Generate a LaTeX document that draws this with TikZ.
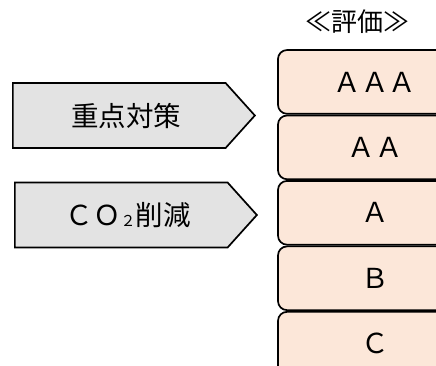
\documentclass[tikz,border=0pt]{standalone}
\usepackage{fontspec}
\setmainfont{Noto Sans CJK JP}
\usepackage{tikz}
\usetikzlibrary{positioning,shapes.symbols}
\definecolor{peach}{HTML}{FCE7D9}
\definecolor{lgray}{HTML}{E3E3E3}
\newcommand{\bigtext}{\fontsize{27.5}{27.5}\selectfont}

\begin{document}
\begin{tikzpicture}[x=1pt,y=-1pt,
  rank/.style={draw,line width=1.7pt,fill=peach,rounded corners=9pt,
    minimum width=194pt,minimum height=63.75pt,inner sep=0pt,font=\bigtext},
  goal/.style={signal,signal to=east,signal pointer angle=96,draw,
    line width=1.7pt,fill=lgray,minimum width=242pt,minimum height=65pt,
    inner sep=0pt,anchor=west,font=\bigtext}]
\useasboundingbox (0,0) rectangle (436,365);
\clip (0,0) rectangle (436,365);
\node[font=\fontsize{26}{26}\selectfont] (title) at (357,22) {≪評価≫};
% rating boxes
\node[rank] (aaa) at (375,81.9) {ＡＡＡ};
\node[rank,below=0pt of aaa] (aa) {ＡＡ};
\node[rank,below=0pt of aa] (a) {Ａ};
\node[rank,below=0pt of a] (b) {Ｂ};
\node[rank,below=0pt of b] (c) {Ｃ};
% arrows
\node[goal] (focus) at (12,115.5) {\hspace*{14pt}重点対策};
\node[goal] (co2) at (14,215) {\hspace*{14pt}ＣＯ{\fontsize{15}{15}\selectfont\raisebox{-1pt}{２}}削減};
\end{tikzpicture}
\end{document}
